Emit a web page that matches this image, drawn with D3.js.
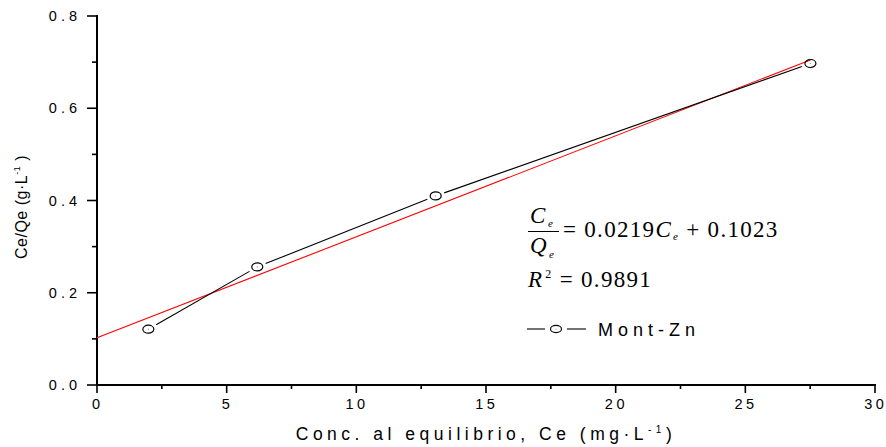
<!DOCTYPE html>
<html>
<head>
<meta charset="utf-8">
<script src="https://cdn.jsdelivr.net/npm/d3@7/dist/d3.min.js"></script>
<style>
  html, body { margin: 0; padding: 0; background: #fff; }
  svg { display: block; }
  text { font-family: "Liberation Sans", Arial, sans-serif; fill: #000; }
  .serif { font-family: "Liberation Serif", "Times New Roman", serif; }
</style>
</head>
<body>
<svg id="chart" width="886" height="447"></svg>
<script>
// Langmuir linearisation for Mont-Zn: Ce/Qe against equilibrium concentration
const ceValues   = [1.98, 6.18, 13.06, 27.51];      // Ce (mg·L-1)
const ceQeValues = [0.121, 0.256, 0.410, 0.697];    // Ce/Qe (g·L-1)
const fitSlope = 0.0219;
const fitIntercept = 0.1023;
const rSquared = 0.9891;
const seriesName = "Mont-Zn";
const xTicks = [0, 5, 10, 15, 20, 25, 30];
const yTicks = [0.0, 0.2, 0.4, 0.6, 0.8];

const svg = d3.select("#chart");
const x = d3.scaleLinear().domain([0, 30]).range([97, 875]);
const y = d3.scaleLinear().domain([0, 0.8]).range([385, 16]);

// Spaced-out label: each character after the first gets a fixed gap,
// so no trailing space is added after the last glyph.
function spaced(sel, str, gap) {
  [...String(str)].forEach((ch, i) => {
    sel.append("tspan").attr("dx", i ? gap : 0).text(ch);
  });
}

// Axes: left and bottom, ticks pointing outward, minor ticks between labels
const xMinor = d3.range(2.5, 30, 5);
const yMinor = d3.range(0.1, 0.8, 0.2);

const gx = svg.append("g").attr("transform", "translate(0,385)");
gx.append("line").attr("x1", x(0) - 1).attr("x2", x(30) + 1)
  .attr("stroke", "#000").attr("stroke-width", 2);
gx.selectAll(".maj").data(xTicks).join("line")
  .attr("x1", d => x(d)).attr("x2", d => x(d)).attr("y1", 0).attr("y2", 8)
  .attr("stroke", "#000").attr("stroke-width", 1.6);
gx.selectAll(".min").data(xMinor).join("line")
  .attr("x1", d => x(d)).attr("x2", d => x(d)).attr("y1", 0).attr("y2", 4)
  .attr("stroke", "#000").attr("stroke-width", 1.6);
gx.selectAll("text").data(xTicks).join("text")
  .attr("x", d => x(d) - 1).attr("y", 24)
  .attr("text-anchor", "middle")
  .attr("font-size", 14.5)
  .each(function(d) { spaced(d3.select(this), d, 3.5); });

const gy = svg.append("g").attr("transform", "translate(97,0)");
gy.append("line").attr("y1", y(0.8) - 1).attr("y2", y(0) + 1)
  .attr("stroke", "#000").attr("stroke-width", 2);
gy.selectAll(".maj").data(yTicks).join("line")
  .attr("y1", d => y(d)).attr("y2", d => y(d)).attr("x1", 0).attr("x2", -10)
  .attr("stroke", "#000").attr("stroke-width", 1.6);
gy.selectAll(".min").data(yMinor).join("line")
  .attr("y1", d => y(d)).attr("y2", d => y(d)).attr("x1", 0).attr("x2", -5)
  .attr("stroke", "#000").attr("stroke-width", 1.6);
gy.selectAll("text").data(yTicks).join("text")
  .attr("x", -20).attr("y", d => y(d) + 5)
  .attr("text-anchor", "end")
  .attr("font-size", 14.5)
  .each(function(d) { spaced(d3.select(this), d3.format(".1f")(d), 4); });

// Axis titles
const xt = svg.append("text").attr("x", 486).attr("y", 440)
  .attr("text-anchor", "middle").attr("font-size", 17.5).attr("letter-spacing", 4.5);
xt.append("tspan").text("Conc. al equilibrio, Ce (mg·L");
xt.append("tspan").attr("dy", -7).attr("font-size", 10).text("-1");
xt.append("tspan").attr("dy", 7).text(")");

const yt = svg.append("text")
  .attr("transform", "translate(27,207) rotate(-90)")
  .attr("text-anchor", "middle").attr("font-size", 16).attr("letter-spacing", 0.5);
yt.append("tspan").text("Ce/Qe (g·L");
yt.append("tspan").attr("dy", -7).attr("font-size", 9).text("-1");
yt.append("tspan").attr("dy", 7).text(" )");

// Linear fit (red)
const fitX = [0, d3.max(ceValues)];
svg.append("path")
  .datum(fitX)
  .attr("d", d3.line().x(d => x(d)).y(d => y(fitIntercept + fitSlope * d)))
  .attr("fill", "none").attr("stroke", "#ff0000").attr("stroke-width", 1.1);

// Data line with gaps around markers
const pts = ceValues.map((v, i) => [x(v), y(ceQeValues[i])]);
const gap = 9;
const segs = d3.pairs(pts).map(([a, b]) => {
  const dx = b[0] - a[0], dy = b[1] - a[1];
  const len = Math.hypot(dx, dy);
  const ux = dx / len, uy = dy / len;
  return [a[0] + ux * gap, a[1] + uy * gap, b[0] - ux * gap, b[1] - uy * gap];
});
svg.selectAll(".seg").data(segs).join("line")
  .attr("x1", d => d[0]).attr("y1", d => d[1])
  .attr("x2", d => d[2]).attr("y2", d => d[3])
  .attr("stroke", "#000").attr("stroke-width", 1.1);

const marks = svg.selectAll(".mk").data(ceValues).join("g")
  .attr("transform", (d, i) => `translate(${x(d)},${y(ceQeValues[i])})`);
marks.append("ellipse").attr("rx", 5.5).attr("ry", 4)
  .attr("fill", "none").attr("stroke", "#000").attr("stroke-width", 1.2);
marks.append("circle").attr("r", 0.6).attr("fill", "#888");

// Fit equation
const eq = svg.append("g");
eq.append("text").attr("class", "serif").attr("x", 530).attr("y", 223)
  .attr("font-size", 23).attr("font-style", "italic").text("C");
eq.append("text").attr("class", "serif").attr("x", 548).attr("y", 227)
  .attr("font-size", 11).attr("font-style", "italic").text("e");
eq.append("line").attr("x1", 528).attr("x2", 559).attr("y1", 231.5).attr("y2", 231.5)
  .attr("stroke", "#000").attr("stroke-width", 1);
eq.append("text").attr("class", "serif").attr("x", 530).attr("y", 253)
  .attr("font-size", 23).attr("font-style", "italic").text("Q");
eq.append("text").attr("class", "serif").attr("x", 549).attr("y", 258)
  .attr("font-size", 11).attr("font-style", "italic").text("e");

const l1 = eq.append("text").attr("class", "serif").attr("x", 563).attr("y", 237)
  .attr("font-size", 23).attr("letter-spacing", 1.3);
l1.append("tspan").text("= " + fitSlope.toFixed(4));
l1.append("tspan").attr("font-style", "italic").text("C");
l1.append("tspan").attr("font-style", "italic").attr("font-size", 11).attr("dx", 1).attr("dy", 3).text("e");
l1.append("tspan").attr("dy", -3).text(" + " + fitIntercept.toFixed(4));

const l2 = eq.append("text").attr("class", "serif").attr("x", 528).attr("y", 287)
  .attr("font-size", 23).attr("letter-spacing", 1.3);
l2.append("tspan").attr("font-style", "italic").text("R");
l2.append("tspan").attr("font-size", 12).attr("dx", 2).attr("dy", -9).text("2");
l2.append("tspan").attr("dy", 9).text(" = " + rSquared.toFixed(4));

// Legend
const lg = svg.append("g").attr("transform", "translate(0,329)");
lg.append("line").attr("x1", 527).attr("x2", 545).attr("stroke", "#000").attr("stroke-width", 1.1);
lg.append("line").attr("x1", 567).attr("x2", 586).attr("stroke", "#000").attr("stroke-width", 1.1);
lg.append("ellipse").attr("cx", 556).attr("rx", 5.5).attr("ry", 3.6)
  .attr("fill", "none").attr("stroke", "#000").attr("stroke-width", 1.1);
lg.append("circle").attr("cx", 556).attr("r", 0.6).attr("fill", "#888");
lg.append("text").attr("x", 598).attr("y", 7).attr("font-size", 18)
  .attr("letter-spacing", 5).text(seriesName);
</script>
</body>
</html>
